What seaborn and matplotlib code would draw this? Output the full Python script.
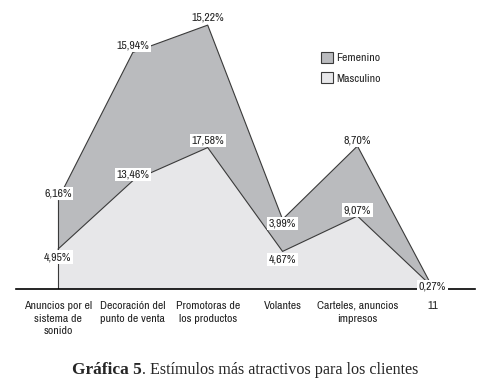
import matplotlib
matplotlib.use('Agg')
import matplotlib.pyplot as plt
import matplotlib.font_manager as fm
import numpy as np
import seaborn as sns
from matplotlib.patches import Patch

# ── Data ──
categories = ['Anuncios por el\nsistema de\nsonido', 'Decoración del\npunto de venta',
              'Promotoras de\nlos productos', 'Volantes',
              'Carteles, anuncios\nimpresos', '11']
masculino = [4.95, 13.46, 17.58, 4.67, 9.07, 0.27]
femenino = [6.16, 15.94, 15.22, 3.99, 8.70, 0.0]
masc_labels = ['4,95%', '13,46%', '17,58%', '4,67%', '9,07%', '0,27%']
fem_labels = ['6,16%', '15,94%', '15,22%', '3,99%', '8,70%', None]

# label offsets (pixels, + = up) to sit like the original
masc_dy = [-8, 6, 7, -8, 6, 0]
fem_dy = [6, 7, 8, -4, 6, 0]

sns.set_style('white')


def pick_narrow():
    # the original uses a condensed sans; take whatever narrow face is around
    for f in fm.fontManager.ttflist:
        if ('Narrow' in f.name or 'Condensed' in f.name) and f.style == 'normal' \
                and f.weight in (400, 'normal', 'regular'):
            return f.fname
    for f in fm.fontManager.ttflist:
        if f.stretch in ('condensed', 'semi-condensed', 'extra-condensed') \
                and f.style == 'normal' and f.weight in (400, 'normal', 'regular'):
            return f.fname
    return None


narrow = pick_narrow()
if narrow:
    NFONT = dict(fontproperties=fm.FontProperties(fname=narrow, size=8.5))
else:
    NFONT = dict(fontproperties=fm.FontProperties(family='DejaVu Sans', size=7))

C_FEM = '#babbbe'
C_MASC = '#e7e7e9'
C_EDGE = '#3a3a3a'

fig = plt.figure(figsize=(4.88, 3.85), dpi=100)
ax = fig.add_axes([16 / 488, 1 - 289 / 385, (475 - 16) / 488, 284 / 385])

x = np.arange(len(categories))
top = np.array(masculino) + np.array(femenino)

ax.stackplot(x, masculino, femenino, colors=[C_MASC, C_FEM],
             edgecolor='none', linewidth=0)
sns.lineplot(x=x, y=masculino, ax=ax, color=C_EDGE, linewidth=0.8)
sns.lineplot(x=x, y=top, ax=ax, color=C_EDGE, linewidth=0.8)
ax.plot([0, 0], [0, top[0]], color=C_EDGE, linewidth=0.8)

box = dict(boxstyle='square,pad=0.15', facecolor='white', edgecolor='none')
for i in range(len(categories)):
    if fem_labels[i]:
        ax.annotate(fem_labels[i], (x[i], top[i]), xytext=(0, fem_dy[i]),
                    textcoords='offset pixels', ha='center', va='center',
                    color='#222222', bbox=box, zorder=5, **NFONT)
    ax.annotate(masc_labels[i], (x[i], masculino[i]), xytext=(0, masc_dy[i]),
                textcoords='offset pixels', ha='center', va='center',
                color='#222222', bbox=box, zorder=5, **NFONT)

ax.set_xlim(-0.56, 5.57)
ax.set_ylim(0, 35.3)
ax.set_yticks([])
ax.set_xticks(x)
ax.set_xticklabels(categories, linespacing=1.35, color='#222222', **NFONT)
ax.tick_params(axis='x', direction='inout', length=9, width=1, color='black', pad=4)
sns.despine(ax=ax, left=True, right=True, top=True)
ax.spines['bottom'].set_color('black')
ax.spines['bottom'].set_linewidth(1.2)
ax.set_facecolor('none')

handles = [Patch(facecolor=C_FEM, edgecolor=C_EDGE, linewidth=0.8, label='Femenino'),
           Patch(facecolor=C_MASC, edgecolor=C_EDGE, linewidth=0.8, label='Masculino')]
fig.legend(handles=handles, loc='upper left', bbox_to_anchor=(321 / 488, 1 - 52 / 385),
           frameon=False, prop=NFONT['fontproperties'], handlelength=1.0, handleheight=1.0,
           handletextpad=0.3, labelspacing=0.75, borderpad=0, borderaxespad=0)

# caption
serif = ['Liberation Serif', 'DejaVu Serif']
fig.text(142 / 488, 1 - 374 / 385, 'Gráfica 5', ha='right', va='baseline',
         fontsize=12.5, fontweight='bold', family=serif)
fig.text(142 / 488, 1 - 374 / 385, '. Estímulos más atractivos para los clientes',
         ha='left', va='baseline', fontsize=11.6, family=serif)

fig.savefig('out.png', dpi=100, facecolor='white')
